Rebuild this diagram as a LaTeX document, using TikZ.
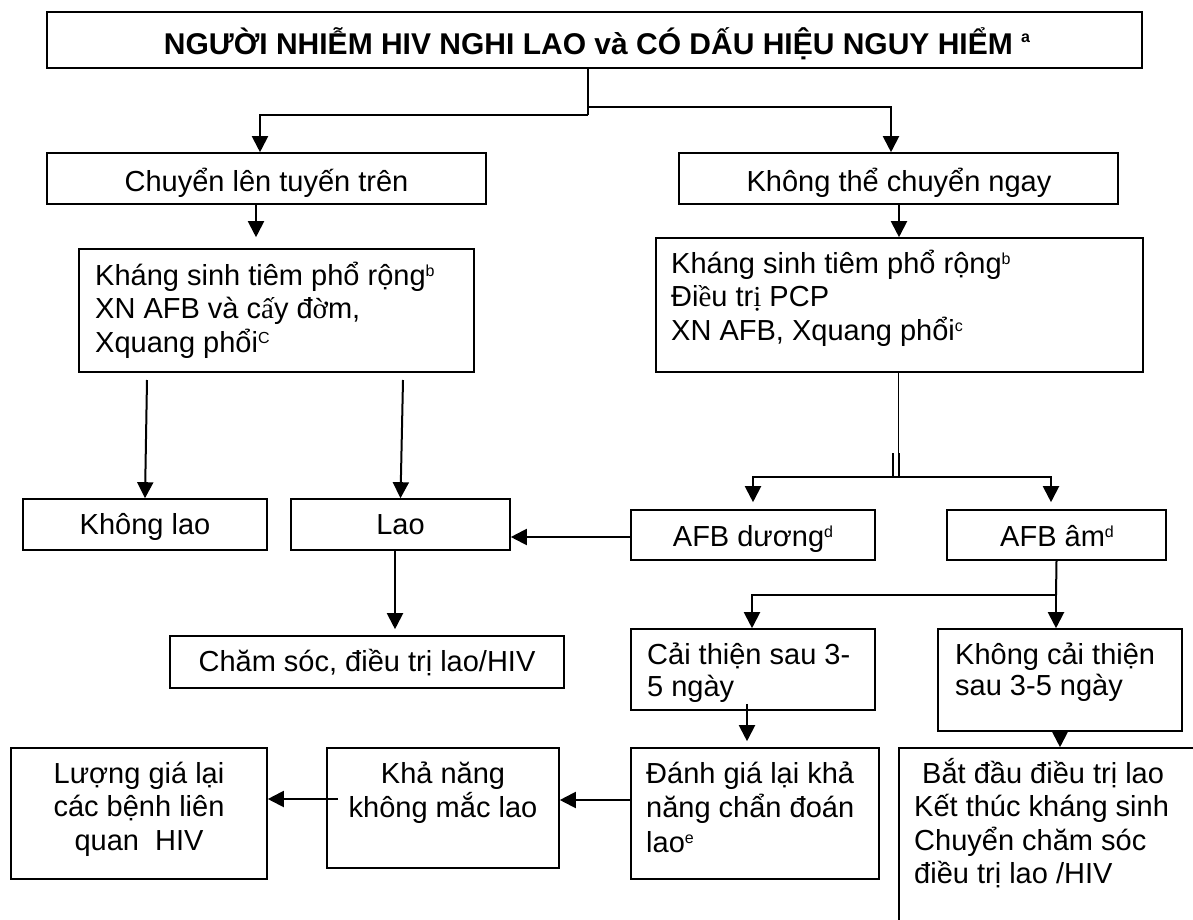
\documentclass[tikz,border=0pt]{standalone}
\usepackage{fontspec}
\setmainfont{Liberation Sans}
\newfontfamily\serifvn{Liberation Serif}
\usetikzlibrary{arrows.meta,calc}
% raised small letter for footnote marks
\newcommand\supx[2][9pt]{\raisebox{#1}{\fontsize{16}{16}\selectfont #2}}
% multi-line text blocks whose reference point is the first baseline
\newcommand\blockL[2][33.5pt]{\parbox[t]{420pt}{\baselineskip=#1\relax\raggedright #2}}
\newcommand\blockC[2][33.5pt]{\parbox[t]{300pt}{\baselineskip=#1\relax\centering #2}}

\begin{document}
\begin{tikzpicture}[x=1pt, y=-1pt,
  box/.style={draw, line width=1.6pt, rectangle, inner sep=0pt},
  txt/.style={inner sep=0pt, font=\fontsize{29}{33.5}\selectfont},
  ttl/.style={inner sep=0pt, font=\fontsize{30}{34}\selectfont\bfseries},
  link/.style={line width=2pt},
  hair/.style={line width=1pt},
  arr/.style={link, -{Triangle[length=16pt,width=16pt]}}]

\useasboundingbox (0,0) rectangle (1193,920);
\clip (0,0) rectangle (1193,920);

% ---------- boxes ----------
\node[box, line width=1.8pt, minimum width=1095pt, minimum height=56pt] (title) at (594.5,40) {};
\node[box, minimum width=439pt, minimum height=51pt] (chuyen) at (266.5,178.5) {};
\node[box, minimum width=439pt, minimum height=51pt] (khongthe) at (898.5,178.5) {};
\node[box, minimum width=395pt, minimum height=123pt] (ksL) at (276.5,310.5) {};
\node[box, minimum width=487pt, minimum height=134pt] (ksR) at (899.5,305) {};
\node[box, minimum width=244pt, minimum height=51pt] (khonglao) at (145,524.5) {};
\node[box, minimum width=219pt, minimum height=51pt] (lao) at (400.5,524.5) {};
\node[box, minimum width=394pt, minimum height=52pt] (chamsoc) at (367,662) {};
\node[box, minimum width=244pt, minimum height=50pt] (afbduong) at (753,535) {};
\node[box, minimum width=219pt, minimum height=50pt] (afbam) at (1056.5,535) {};
\node[box, minimum width=244pt, minimum height=81pt] (caithien) at (753,669.5) {};
\node[box, minimum width=244pt, minimum height=102pt] (khongct) at (1060,680) {};
\node[box, minimum width=248pt, minimum height=131pt] (danhgia) at (755,813.5) {};
\node[box, minimum width=341pt, minimum height=212pt] (batdau) at (1069.5,854) {};
\node[box, minimum width=256pt, minimum height=131pt] (luong) at (139,813.5) {};
\node[box, minimum width=232pt, minimum height=120pt] (khanang) at (443,808) {};

% ---------- texts ----------
\node[ttl, anchor=base] (titleT) at (597,55)
  {NGƯỜI NHIỄM HIV NGHI LAO và CÓ DẤU HIỆU NGUY HIỂM \supx[12pt]{a}};
\node[txt, anchor=base] (chuyenT) at (266.5,192) {Chuyển lên tuyến trên};
\node[txt, anchor=base] (khongtheT) at (899,191) {Không thể chuyển ngay};
\node[txt, anchor=base west] (ksLT) at (95,285)
  {\blockL{Kháng sinh tiêm phổ rộng\supx{b}\\XN AFB và c{\serifvn ấ}y đ{\serifvn ờ}m,\\Xquang phổi\supx{C}}};
\node[txt, anchor=base west] (ksRT) at (671,273)
  {\blockL{Kháng sinh tiêm phổ rộng\supx{b}\\Đi{\serifvn ề}u tr{\serifvn ị} PCP\\XN AFB, Xquang phổi\supx{c}}};
\node[txt, anchor=base] (khonglaoT) at (145,534) {Không lao};
\node[txt, anchor=base] (laoT) at (400.5,534) {Lao};
\node[txt, anchor=base] (chamsocT) at (367,671) {Chăm sóc, điều trị lao/HIV};
\node[txt, anchor=base] (afbduongT) at (753,546) {AFB dương\supx{d}};
\node[txt, anchor=base] (afbamT) at (1057,546) {AFB âm\supx{d}};
\node[txt, anchor=base west] (caithienT) at (647,664)
  {\blockL[32pt]{Cải thiện sau 3-\\5 ngày}};
\node[txt, anchor=base west] (khongctT) at (955,664)
  {\blockL[31pt]{Không cải thiện\\sau 3-5 ngày}};
\node[txt, anchor=base west] (danhgiaT) at (646,783)
  {\blockL[34.5pt]{Đánh giá lại khả\\năng chẩn đoán\\lao\supx{e}}};
\node[txt, anchor=base west] (batdauT) at (914,783)
  {\blockL{\hspace*{8pt}Bắt đầu điều trị lao\\Kết thúc kháng sinh\\Chuyển chăm sóc\\điều trị lao /HIV}};
\node[txt, anchor=base] (luongT) at (139,783)
  {\blockC{Lượng giá lại\\các bệnh liên\\quan\ \ HIV}};
\node[txt, anchor=base] (khanangT) at (443,783)
  {\blockC[34pt]{Khả năng\\không mắc lao}};

% ---------- connectors ----------
\coordinate (split) at (588,115);
\coordinate (splitR) at (588,107);
\draw[link] (title.south -| split) -- (split);
\draw[arr] (split) -| ([xshift=-6.5pt]chuyen.north);
\draw[arr] (splitR) -| ([xshift=-7.5pt]khongthe.north);

\draw[arr, shorten >=11pt] ([xshift=-10.5pt]chuyen.south) -- ([xshift=-10.5pt]chuyen.south |- ksL.north);
\draw[arr] ([xshift=0.5pt]khongthe.south) -- ([xshift=0.5pt]khongthe.south |- ksR.north);

\coordinate (kl0) at (147,380);
\coordinate (lo0) at (403,380);
\draw[arr] (kl0) -- (khonglao.north);
\draw[arr] (lo0) -- (lao.north);

\coordinate (split2) at (898,477);
\draw[hair] ([xshift=-1.5pt]ksR.south) -- (split2);
\draw[link] ([xshift=-5pt]split2) -- ++(0,-24);
\draw[link] ([xshift=1pt]split2) -- ++(0,-24);
\draw[arr, shorten >=7pt] (split2) -| (afbduong.north);
\draw[arr, shorten >=7pt] (split2) -| ([xshift=-5.5pt]afbam.north);

\draw[arr] ([yshift=-2pt]afbduong.west) -- ([yshift=-2pt]afbduong.west -| lao.east);
\draw[arr, shorten >=6pt] ([xshift=-5.5pt]lao.south) -- ([xshift=-5.5pt]lao.south |- chamsoc.north);

\coordinate (split3) at (1056,595);
\draw[link] (afbam.south) -- (split3);
\draw[arr] (split3) -| ([xshift=-1pt]caithien.north);
\draw[arr] (split3) -- (split3 |- khongct.north);

\draw[arr, shorten >=6pt] ([xshift=-6pt,yshift=7pt]caithien.south) -- ([xshift=-6pt]caithien.south |- danhgia.north);
\draw[arr] (khongct.south) -- (khongct.south |- batdau.north);

\draw[arr] ([yshift=13.5pt]danhgia.west) -- ([yshift=13.5pt]danhgia.west -| khanang.east);
\draw[arr] ([xshift=12pt,yshift=9pt]khanang.west) -- ([yshift=9pt]khanang.west -| luong.east);
\end{tikzpicture}
\end{document}
